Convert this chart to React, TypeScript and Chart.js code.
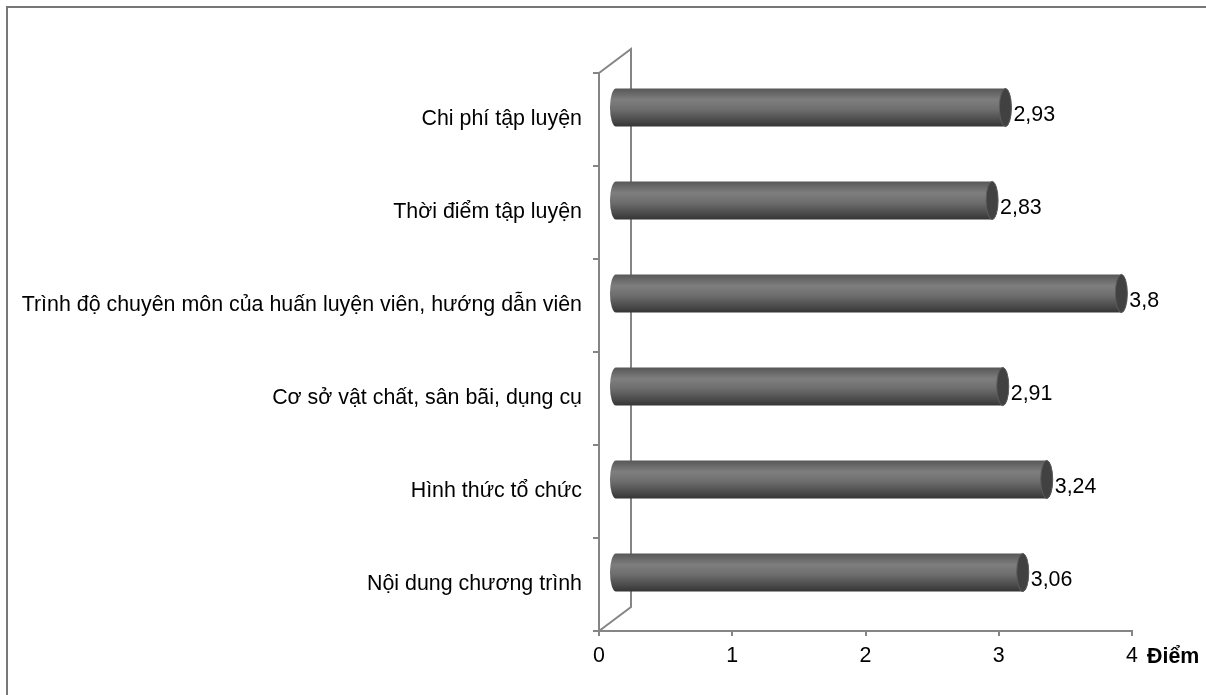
import { useEffect, useRef } from "react";
import { Chart, registerables } from "chart.js";

Chart.register(...registerables);

// Survey factors (top to bottom) and their mean scores
const categories = [
  "Chi phí tập luyện",
  "Thời điểm tập luyện",
  "Trình độ chuyên môn của huấn luyện viên, hướng dẫn viên",
  "Cơ sở vật chất, sân bãi, dụng cụ",
  "Hình thức tổ chức",
  "Nội dung chương trình",
];
const scores = [2.93, 2.83, 3.8, 2.91, 3.24, 3.06];
const axisTicks = [0, 1, 2, 3, 4];
const axisUnit = "Điểm";

const FONT = '"Liberation Sans", Arial, Helvetica, sans-serif';
const FONT_SIZE = 21.4;
const AXIS_GRAY = "#858585";
// depth of the pseudo-3D wall behind the bars
const DEPTH_X = 32;
const DEPTH_Y = 24;
const CAP_RX = 6;

const formatScore = (v: number) => String(v).replace(".", ",");

// Side wall drawn behind the bars: front axis -> back edge
const wallPlugin = {
  id: "wall",
  beforeDatasetsDraw(chart: any) {
    const { ctx, chartArea: a } = chart;
    ctx.save();
    ctx.strokeStyle = AXIS_GRAY;
    ctx.lineWidth = 2;
    ctx.lineJoin = "miter";
    ctx.beginPath();
    ctx.moveTo(a.left, a.top);
    ctx.lineTo(a.left + DEPTH_X, a.top - DEPTH_Y);
    ctx.lineTo(a.left + DEPTH_X, a.bottom - DEPTH_Y);
    ctx.lineTo(a.left, a.bottom);
    ctx.stroke();
    ctx.restore();
  },
};

// Bars rendered as horizontal cylinders placed mid-depth, with value labels
const cylinderPlugin = {
  id: "cylinders",
  beforeDatasetDraw() {
    return false;
  },
  afterDatasetsDraw(chart: any) {
    const { ctx } = chart;
    const meta = chart.getDatasetMeta(0);
    meta.data.forEach((bar: any, i: number) => {
      const { x, y, base, height } = bar.getProps(["x", "y", "base", "height"], true);
      const x0 = base + DEPTH_X / 2;
      const x1 = x + DEPTH_X / 2;
      const cy = y - DEPTH_Y / 2;
      const ry = height / 2;
      const top = cy - ry;
      const bottom = cy + ry;

      ctx.save();
      const g = ctx.createLinearGradient(0, top, 0, bottom);
      g.addColorStop(0, "#575757");
      g.addColorStop(0.3, "#7e7e7e");
      g.addColorStop(0.55, "#6e6e6e");
      g.addColorStop(0.88, "#454545");
      g.addColorStop(1, "#343434");
      ctx.beginPath();
      ctx.moveTo(x0, top);
      ctx.lineTo(x1, top);
      ctx.ellipse(x1, cy, CAP_RX, ry, 0, -Math.PI / 2, Math.PI / 2);
      ctx.lineTo(x0, bottom);
      ctx.ellipse(x0, cy, CAP_RX, ry, 0, Math.PI / 2, Math.PI * 1.5);
      ctx.closePath();
      ctx.fillStyle = g;
      ctx.fill();

      // end cap
      ctx.beginPath();
      ctx.ellipse(x1, cy, CAP_RX, ry, 0, 0, Math.PI * 2);
      ctx.fillStyle = "#414141";
      ctx.fill();
      ctx.strokeStyle = "#5c5c5c";
      ctx.lineWidth = 1;
      ctx.stroke();

      // value label
      ctx.fillStyle = "#000";
      ctx.font = `${FONT_SIZE}px ${FONT}`;
      ctx.textAlign = "left";
      ctx.textBaseline = "alphabetic";
      ctx.fillText(formatScore(scores[i]), x1 + CAP_RX + 2, cy + 13);
      ctx.restore();
    });
  },
};

// Unit caption to the right of the last x tick
const unitPlugin = {
  id: "unit",
  afterDraw(chart: any) {
    const { ctx, chartArea: a } = chart;
    const xs = chart.scales.x;
    ctx.save();
    ctx.fillStyle = "#000";
    ctx.font = `bold ${FONT_SIZE}px ${FONT}`;
    ctx.textAlign = "left";
    ctx.textBaseline = "alphabetic";
    ctx.fillText(axisUnit, xs.getPixelForValue(axisTicks[axisTicks.length - 1]) + 15, a.bottom + 32);
    ctx.restore();
  },
};

export default function App() {
  const ref = useRef<HTMLCanvasElement | null>(null);

  useEffect(() => {
    if (!ref.current) return;
    const chart = new Chart(ref.current, {
      type: "bar",
      data: {
        labels: categories,
        datasets: [
          {
            data: scores,
            backgroundColor: "#6e6e6e",
            borderWidth: 0,
            barPercentage: 0.41,
            categoryPercentage: 1,
          },
        ],
      },
      options: {
        indexAxis: "y",
        responsive: false,
        animation: false,
        devicePixelRatio: 1,
        layout: { padding: { top: 73, right: 74, left: 0, bottom: 0 } },
        plugins: {
          legend: { display: false },
          tooltip: { enabled: false },
        },
        scales: {
          x: {
            type: "linear",
            min: 0,
            max: 4,
            afterBuildTicks: (s: any) => {
              s.ticks = axisTicks.map((v) => ({ value: v }));
            },
            ticks: {
              color: "#000",
              font: { family: FONT, size: FONT_SIZE },
              padding: 7,
              maxRotation: 0,
            },
            grid: {
              drawOnChartArea: false,
              drawTicks: true,
              tickLength: 5,
              color: AXIS_GRAY,
              lineWidth: 2,
            },
            border: { color: AXIS_GRAY, width: 2 },
            afterFit: (s: any) => {
              s.height = 64;
            },
          },
          y: {
            type: "category",
            ticks: {
              color: "#000",
              font: { family: FONT, size: FONT_SIZE },
              padding: 11,
            },
            grid: {
              drawOnChartArea: false,
              drawTicks: true,
              tickLength: 6,
              offset: true,
              color: AXIS_GRAY,
              lineWidth: 2,
            },
            border: { color: AXIS_GRAY, width: 2 },
            afterFit: (s: any) => {
              s.width = 599;
            },
          },
        },
      },
      plugins: [wallPlugin, cylinderPlugin, unitPlugin],
    } as any);
    return () => chart.destroy();
  }, []);

  return (
    <div
      style={{
        position: "fixed",
        left: 0,
        top: 0,
        width: 1206,
        height: 695,
        overflow: "hidden",
        background: "#fff",
      }}
    >
      <div
        style={{
          position: "absolute",
          left: 6,
          top: 6,
          width: 1300,
          height: 800,
          border: "2px solid #777",
          boxSizing: "border-box",
        }}
      />
      <canvas
        ref={ref}
        width={1206}
        height={695}
        style={{ position: "absolute", left: 0, top: 0, width: 1206, height: 695 }}
      />
    </div>
  );
}
